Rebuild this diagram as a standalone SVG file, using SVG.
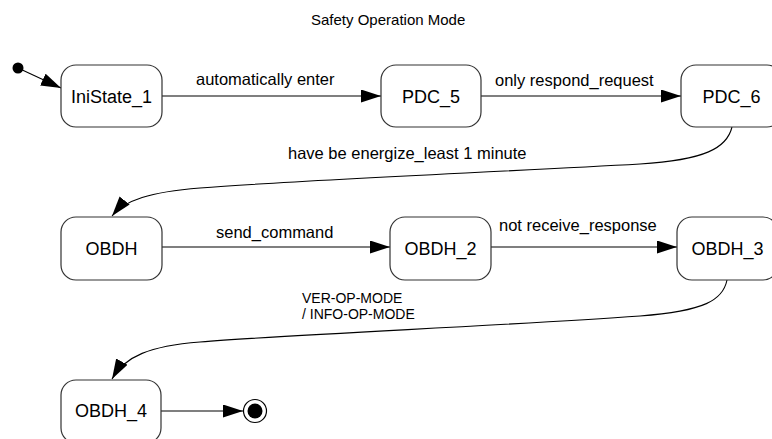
<svg xmlns="http://www.w3.org/2000/svg" width="772" height="439" viewBox="0 0 772 439">
  <defs>
    <marker id="arrow" markerUnits="userSpaceOnUse" markerWidth="20" markerHeight="14" refX="20" refY="6.5" orient="auto">
      <path d="M0,0 L20,6.5 L0,13 z" fill="#000"/>
    </marker>
  </defs>
  <style>
    .state { fill: #fff; stroke: #333; stroke-width: 1.2; }
    .label { font-family: "Liberation Sans", Arial, sans-serif; font-size: 18px; fill: #000; text-anchor: middle; }
    .edge { fill: none; stroke: #000; stroke-width: 1.1; marker-end: url(#arrow); }
    .elabel { font-family: "Liberation Sans", Arial, sans-serif; font-size: 16.5px; fill: #000; }
    .title { font-family: "Liberation Sans", Arial, sans-serif; font-size: 15px; fill: #000; }
  </style>

  <rect width="772" height="439" fill="#fff"/>

  <text class="title" x="311" y="25">Safety Operation Mode</text>

  <!-- transitions -->
  <g id="connectors">
    <path class="edge" d="M18,68 L61,88"/>
    <path class="edge" d="M162,96 L381,96"/>
    <path class="edge" d="M481,96 L681,96"/>
    <path class="edge" d="M732,127 C727,148 705,160 640,164 C500,172 300,180 200,188 C150,192 125,200 112,216"/>
    <path class="edge" d="M162,247 L390,247"/>
    <path class="edge" d="M491,247 L677,247"/>
    <path class="edge" d="M727,280 C723,300 705,311 640,316 C500,326 300,334 200,342 C150,346 125,356 112,379"/>
    <path class="edge" d="M161,411 L243,411"/>

    <text class="elabel" x="196" y="85">automatically enter</text>
    <text class="elabel" x="495" y="86">only respond_request</text>
    <text class="elabel" x="288" y="159">have be energize_least 1 minute</text>
    <text class="elabel" x="216" y="238">send_command</text>
    <text class="elabel" x="499" y="231">not receive_response</text>
    <text class="elabel" x="302" y="303" style="font-size:14px">VER-OP-MODE</text>
    <text class="elabel" x="302" y="319" style="font-size:14px">/ INFO-OP-MODE</text>
  </g>

  <g id="initial">
    <circle cx="18" cy="68" r="5.5" fill="#000"/>
  </g>

  <g id="IniState_1">
    <rect class="state" x="61" y="65" width="101" height="62" rx="15"/>
    <text class="label" x="111.5" y="103">IniState_1</text>
  </g>
  <g id="PDC_5">
    <rect class="state" x="381" y="65" width="100" height="62" rx="15"/>
    <text class="label" x="431" y="103">PDC_5</text>
  </g>
  <g id="PDC_6">
    <rect class="state" x="681" y="65" width="101" height="62" rx="15"/>
    <text class="label" x="731.5" y="103">PDC_6</text>
  </g>
  <g id="OBDH">
    <rect class="state" x="61" y="217" width="101" height="63" rx="15"/>
    <text class="label" x="111.5" y="255">OBDH</text>
  </g>
  <g id="OBDH_2">
    <rect class="state" x="390" y="217" width="101" height="63" rx="15"/>
    <text class="label" x="440.5" y="255">OBDH_2</text>
  </g>
  <g id="OBDH_3">
    <rect class="state" x="677" y="217" width="101" height="63" rx="15"/>
    <text class="label" x="727.5" y="255">OBDH_3</text>
  </g>
  <g id="OBDH_4">
    <rect class="state" x="61" y="380" width="100" height="63" rx="15"/>
    <text class="label" x="111" y="417">OBDH_4</text>
  </g>

  <g id="final">
    <circle cx="255" cy="411" r="11.5" fill="#fff" stroke="#000" stroke-width="1.2"/>
    <circle cx="255" cy="411" r="7.5" fill="#000"/>
  </g>
</svg>
